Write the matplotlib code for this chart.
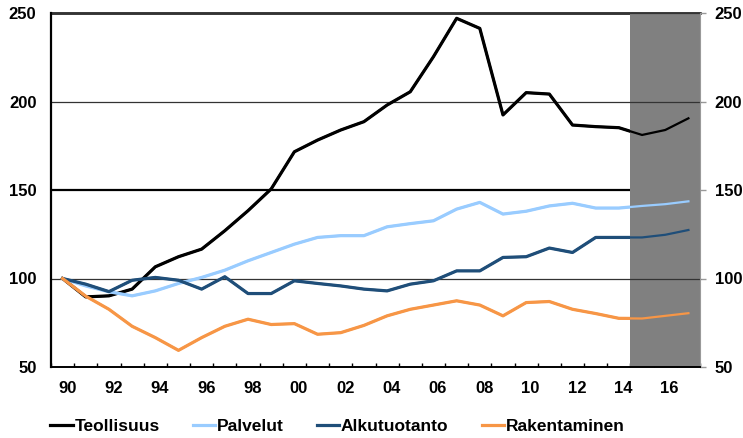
import matplotlib
matplotlib.use("Agg")
import matplotlib.pyplot as plt
import matplotlib.transforms as mtransforms
from matplotlib.patches import Rectangle
import numpy as np

years = list(range(1990, 2018))
tick_labels = ["90", "92", "94", "96", "98", "00", "02", "04", "06", "08", "10", "12", "14", "16"]

teollisuus = [100, 89.6, 90.2, 94, 106.6, 112.3, 116.6, 127, 138.3, 150.6, 171.6, 178.2, 183.9, 188.6,
              198, 205.5, 225.3, 247, 241.3, 192.4, 205, 204.2, 186.7, 185.8, 185.2, 181.1, 183.9, 190.5]
palvelut = [100, 95.8, 92.5, 90.2, 93, 97.2, 100.6, 104.7, 110, 114.7, 119.4, 123.2, 124.2, 124.2,
            129.2, 131, 132.6, 139.2, 143, 136.4, 138, 141, 142.5, 139.8, 139.8, 141, 142, 143.6]
alkutuotanto = [100, 96.8, 92.6, 99, 100.6, 99, 94, 101, 91.5, 91.5, 98.7, 97.2, 95.8, 94,
                93, 96.8, 98.7, 104.3, 104.3, 111.9, 112.3, 117.2, 114.7, 123.2, 123.2, 123.2, 124.7, 127.4]
rakentaminen = [100, 90, 82.6, 73, 66.6, 59.4, 66.6, 73, 77, 74, 74.5, 68.5, 69.4, 73.5,
                78.9, 82.6, 85, 87.4, 85, 78.9, 86.4, 87, 82.6, 80.2, 77.5, 77.4, 78.9, 80.4]

series_names = ["Teollisuus", "Palvelut", "Alkutuotanto", "Rakentaminen"]
series_colors = ["#000000", "#99CCFF", "#1F4E79", "#F79646"]
forecast_start_year = 2015

plt.rcParams['font.family'] = ['Liberation Sans', 'DejaVu Sans']
plt.rcParams['font.weight'] = 'bold'

fig = plt.figure(figsize=(7.43, 4.38), dpi=100)
ax = fig.add_axes([51/743, 1-367/438, (700-51)/743, (367-13)/438])

x = np.arange(len(years))
fs_idx = years.index(forecast_start_year)
shade_left = fs_idx - 0.5

# forecast shading
ax.axvspan(shade_left, len(years) - 0.5, color="#808080", zorder=2, lw=0)

# heavy lines under the shading
ax.axhline(150, color="black", lw=1.6, zorder=1)
ax.axhline(250, color="black", lw=1.8, zorder=1, clip_on=False)
# light gridlines over the shading
for v in (100, 200, 250):
    ax.axhline(v, color="#333333", lw=0.9, zorder=3, clip_on=False)

for vals, name, col in zip([teollisuus, palvelut, alkutuotanto, rakentaminen], series_names, series_colors):
    thick, = ax.plot(x, vals, color=col, lw=2.3, label=name, zorder=4, solid_joinstyle='round')
    clip = Rectangle((-0.5, 0), shade_left + 0.5, 400, transform=ax.transData)
    thick.set_clip_path(clip)
    ax.plot(x, vals, color=col, lw=1.6, zorder=4, solid_joinstyle='round')

ax.set_xlim(-0.5, len(years) - 0.5)
ax.set_ylim(50, 250)
ax.set_yticks([50, 100, 150, 200, 250])

ax.set_xticks(x[::2])
ax.set_xticklabels(tick_labels)
ax.set_xticks(np.arange(-0.5, len(years), 1), minor=True)
ax.tick_params(axis='x', which='major', length=0, pad=10, labelsize=12)
ax.tick_params(axis='x', which='minor', direction='in', length=3, width=1, color='black')
ax.tick_params(axis='y', left=False, right=True, labelleft=True, labelright=True,
               direction='out', length=4, width=1, color='#999999', labelsize=12, pad=6.5)

shift = mtransforms.ScaledTranslation(4.5/100, 0, fig.dpi_scale_trans)
for lbl in ax.get_xticklabels():
    lbl.set_transform(lbl.get_transform() + shift)

ax.spines['top'].set_visible(False)
ax.spines['left'].set_linewidth(1.6)
ax.spines['bottom'].set_linewidth(1.4)
ax.spines['right'].set_color('#999999')
ax.spines['right'].set_linewidth(0.8)
for s in ax.spines.values():
    s.set_zorder(5)

leg = fig.legend(loc='center left', bbox_to_anchor=(50/743, 1-426/438), ncol=4, frameon=False,
                 handlelength=1.3, handletextpad=0.1, columnspacing=1.9, fontsize=12.5,
                 borderaxespad=0, borderpad=0)
for h in leg.get_lines():
    h.set_linewidth(2.3)

fig.savefig("out.png", dpi=100)
